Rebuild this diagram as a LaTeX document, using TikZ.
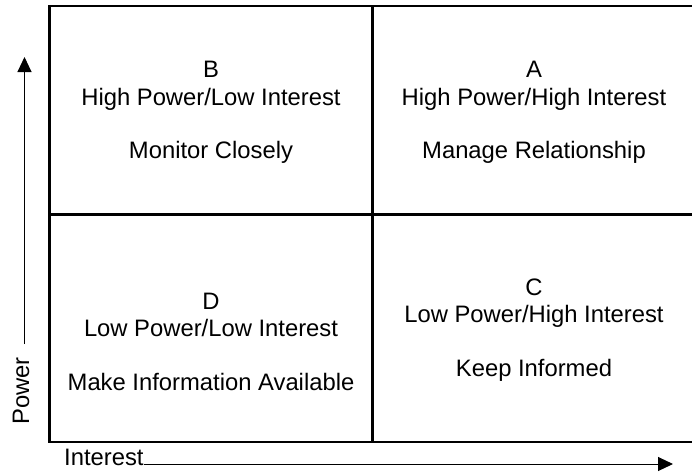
\documentclass[tikz,border=0pt]{standalone}
\usepackage{fontspec}
\setmainfont{Liberation Sans}
\usetikzlibrary{arrows.meta}
\begin{document}
\begin{tikzpicture}[x=1pt,y=-1pt,
  grid/.style={line width=2.5pt},
  axis/.style={line width=1pt,-{Triangle[length=15pt,width=14pt]}},
  lbl/.style={font=\fontsize{23.8}{27}\selectfont,inner sep=0pt,anchor=base}]
\useasboundingbox (0,0) rectangle (692,472);
% grid
\draw[grid] (696,6) -- (49.3,6) -- (49.3,441.8) -- (696,441.8);
\draw[grid] (372.7,6) -- (372.7,441.8);
\draw[grid] (49.3,214.7) -- (696,214.7);
% quadrant B
\node[lbl] (bt) at (211,77.7) {B};
\node[lbl] (bs) at (211,105) {High Power/Low Interest};
\node[lbl] (ba) at (211,158.3) {Monitor Closely};
% quadrant A
\node[lbl] (at) at (534,77.7) {A};
\node[lbl] (as) at (534,105) {High Power/High Interest};
\node[lbl] (aa) at (534,158.3) {Manage Relationship};
% quadrant D
\node[lbl] (dt) at (211,309.4) {D};
\node[lbl] (ds) at (211,336.7) {Low Power/Low Interest};
\node[lbl] (da) at (211,390.7) {Make Information Available};
% quadrant C
\node[lbl] (ct) at (534,295.4) {C};
\node[lbl] (cs) at (534,322.7) {Low Power/High Interest};
\node[lbl] (ca) at (534,376) {Keep Informed};
% axes
\node[lbl,anchor=base west,rotate=90] (pw) at (29,425) {Power};
\coordinate (pb) at (24.5,344);
\coordinate (ptip) at (24.5,57);
\draw[axis] (pb) -- (ptip);
\node[lbl,anchor=base west] (in) at (64,465.7) {Interest};
\coordinate (itip) at (673,464);
\draw[axis] (in.east |- itip) -- (itip);
\end{tikzpicture}
\end{document}
